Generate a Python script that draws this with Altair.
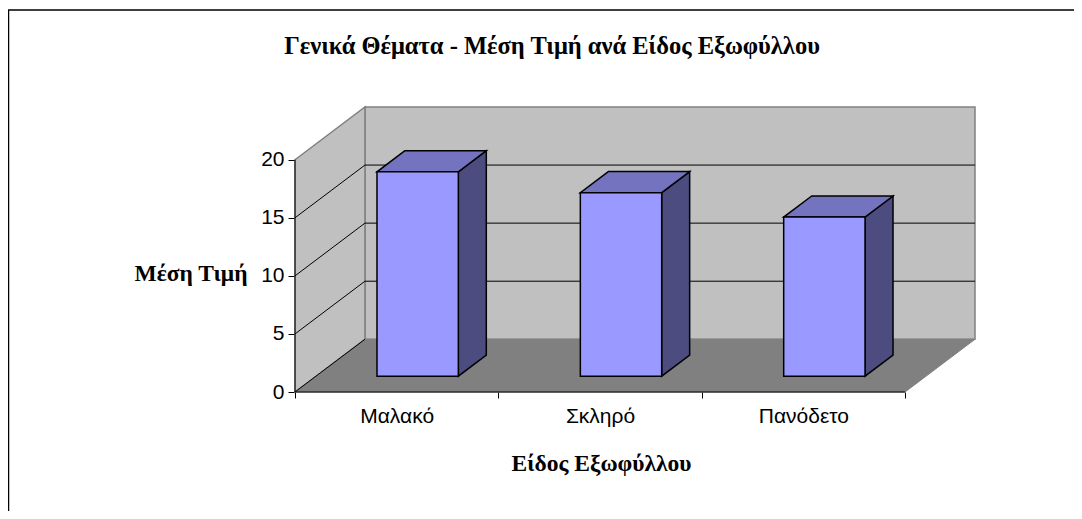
import altair as alt
import pandas as pd

# ---------------- data ----------------
categories = ["Μαλακό", "Σκληρό", "Πανόδετο"]
values = [17.6, 15.8, 13.7]
y_ticks = [0, 5, 10, 15, 20]

TITLE = "Γενικά Θέματα - Μέση Τιμή ανά Είδος Εξωφύλλου"
X_TITLE = "Είδος Εξωφύλλου"
Y_TITLE = "Μέση Τιμή"

# ---------------- 3D (oblique) projection parameters ----------------
DX = 0.344      # depth shift, in category units
DY = 4.54       # depth shift, in value units
YMAX = 20
N = len(categories)
HALF = 0.2      # half bar width (category units)
D0, D1 = 0.3, 0.7   # bar front / back depth fractions

xs = alt.Scale(domain=[0, N + DX], nice=False, zero=False)
ys = alt.Scale(domain=[0, YMAX + DY], nice=False, zero=False)

# ---------------- geometry tables built from the data ----------------
back = pd.DataFrame({"x": [DX], "x2": [N + DX], "y": [DY], "y2": [YMAX + DY]})
left = pd.DataFrame({"x": [0, DX], "top": [YMAX, YMAX + DY], "bot": [0, DY]})
floor = pd.DataFrame({"y": [0, DY], "x": [0, DX], "x2": [N, N + DX]})

rules = []
for v in y_ticks[1:-1]:
    rules.append({"x": DX, "x2": N + DX, "y": v + DY, "y2": v + DY})
for v in y_ticks[:-1]:
    rules.append({"x": 0, "x2": DX, "y": v, "y2": v + DY})
rules.append({"x": 0, "x2": 0, "y": 0, "y2": YMAX})
rules.append({"x": 0, "x2": N, "y": 0, "y2": 0})
rules = pd.DataFrame(rules)

front_rows, side_rows, top_rows = [], [], []
for i, (c, v) in enumerate(zip(categories, values)):
    m = i + 0.5
    front_rows.append({"cat": c, "x": m - HALF + D0 * DX, "x2": m + HALF + D0 * DX,
                       "y": D0 * DY, "y2": v + D0 * DY})
    for d in (D0, D1):
        side_rows.append({"cat": c, "x": m + HALF + d * DX, "top": v + d * DY, "bot": d * DY})
        top_rows.append({"cat": c, "y": v + d * DY, "x": m - HALF + d * DX, "x2": m + HALF + d * DX})
front = pd.DataFrame(front_rows)
side = pd.DataFrame(side_rows)
topf = pd.DataFrame(top_rows)

# ---------------- axes ----------------
tick_vals = [i / 2 for i in range(2 * N + 1)]
label_expr = ""
for i, c in enumerate(categories):
    label_expr += f"datum.value == {i + 0.5} ? '{c}' : "
label_expr += "''"

x_axis = alt.Axis(
    values=tick_vals, labelExpr=label_expr,
    tickOpacity={"condition": {"test": "datum.value % 1 != 0", "value": 0}, "value": 1},
    domain=False, grid=False, tickSize=6, tickColor="black", tickWidth=1,
    labelFont="Liberation Sans", labelFontSize=21, labelColor="black",
    labelPadding=7, labelOverlap=False, labelFlush=False,
    title=X_TITLE, titleFont="Liberation Serif", titleFontSize=23.5,
    titleFontWeight="bold", titleColor="black",
    titleX=306, titleY=78, titleBaseline="alphabetic", titleAlign="center",
)
y_axis = alt.Axis(
    values=y_ticks, domain=False, grid=False, tickSize=7, tickColor="black",
    labelFont="Liberation Sans", labelFontSize=21, labelColor="black", labelPadding=4,
    title=Y_TITLE, titleFont="Liberation Serif", titleFontSize=23.5,
    titleFontWeight="bold", titleColor="black", titleAngle=0,
    titleAlign="right", titleBaseline="middle", titleX=-48, titleY=166,
)


def X(field):
    return alt.X(field, scale=xs, axis=x_axis)


def Y(field):
    return alt.Y(field, scale=ys, axis=y_axis)


# ---------------- layers ----------------
back_l = alt.Chart(back).mark_rect(fill="#C0C0C0", stroke="#808080", strokeWidth=1.5).encode(
    x=X("x:Q"), x2="x2:Q", y=Y("y:Q"), y2="y2:Q")

left_l = alt.Chart(left).mark_area(fill="#C0C0C0", stroke="#808080", strokeWidth=1.5).encode(
    x=X("x:Q"), y=Y("top:Q"), y2="bot:Q")

floor_l = alt.Chart(floor).mark_area(orient="horizontal", fill="#808080", stroke="#808080",
                                     strokeWidth=1).encode(
    y=Y("y:Q"), x=X("x:Q"), x2="x2:Q")

rule_l = alt.Chart(rules).mark_rule(color="black", strokeWidth=1).encode(
    x=X("x:Q"), x2="x2:Q", y=Y("y:Q"), y2="y2:Q")

side_l = alt.Chart(side).mark_area(fill="#4C4C80", stroke="black", strokeWidth=1.5,
                                   strokeJoin="miter").encode(
    x=X("x:Q"), y=Y("top:Q"), y2="bot:Q", detail="cat:N")

top_l = alt.Chart(topf).mark_area(orient="horizontal", fill="#7373BF", stroke="black",
                                  strokeWidth=1.5, strokeJoin="miter").encode(
    y=Y("y:Q"), x=X("x:Q"), x2="x2:Q", detail="cat:N")

front_l = alt.Chart(front).mark_rect(fill="#9999FF", stroke="black", strokeWidth=1.5).encode(
    x=X("x:Q"), x2="x2:Q", y=Y("y:Q"), y2="y2:Q")

frame_l = alt.Chart(pd.DataFrame({"a": [0]})).mark_rect(
    fillOpacity=0, stroke="black", strokeWidth=1.5).encode(
    x=alt.value(-286.5), x2=alt.value(1500), y=alt.value(-97), y2=alt.value(1500))

chart = alt.layer(back_l, left_l, floor_l, rule_l, side_l, top_l, front_l, frame_l).properties(
    width=680, height=285,
    autosize="none",
    padding={"left": 287, "top": 99, "right": 99, "bottom": 119},
    title=alt.TitleParams(TITLE, font="Liberation Serif", fontSize=24.5, fontWeight="bold",
                          color="black", anchor="middle", frame="group", dx=-83, offset=-69,
                          baseline="alphabetic"),
    background="white",
).configure_view(stroke=None)

chart.save("out.html", embed_options={"renderer": "svg", "actions": False})
